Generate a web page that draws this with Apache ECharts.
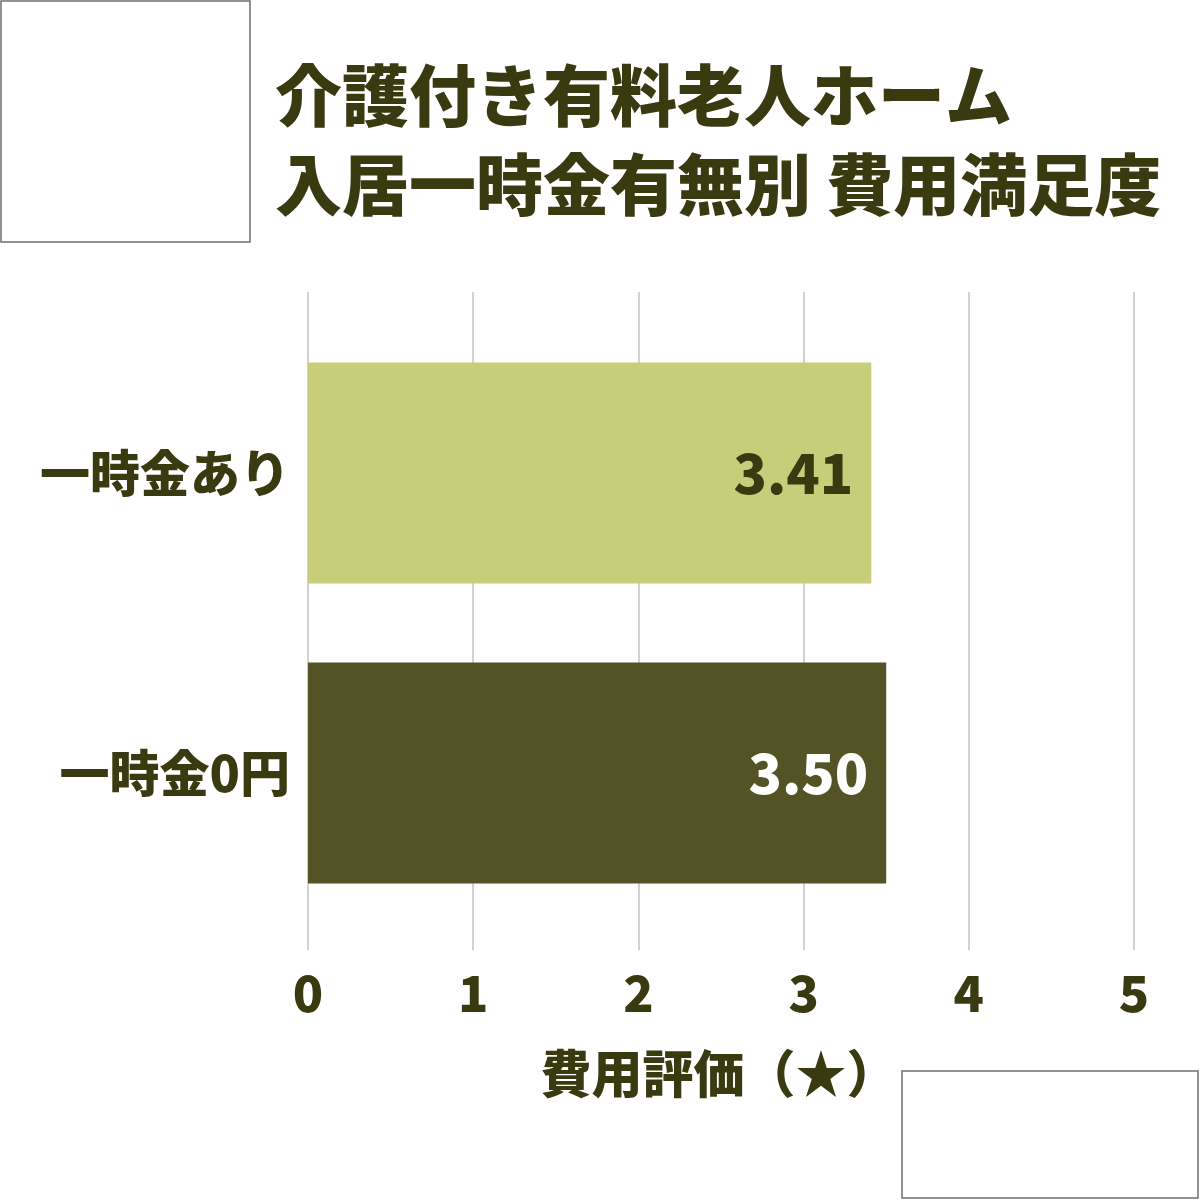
<!DOCTYPE html>
<html><head><meta charset="utf-8">
<script src="https://cdn.jsdelivr.net/npm/echarts@6/dist/echarts.min.js"></script>
<style>html,body{margin:0;padding:0;background:#fff}#c{width:1200px;height:1200px}</style>
</head><body><div id="c"></div>
<script>
const titleLines = ['介護付き有料老人ホーム', '入居一時金有無別 費用満足度'];
const categories = ['一時金あり', '一時金0円'];
const values = [3.41, 3.50];
const barColors = ['#c8cd7a', '#535326'];
const labelColors = ['#3a3a10', '#ffffff'];
const xTicks = [0, 1, 2, 3, 4, 5];
const xName = '費用評価（★）';

const FONT = '"Noto Sans CJK JP","Noto Sans",sans-serif';
const TXT = '#3a3a10';
const W = 900;

const chart = echarts.init(document.getElementById('c'), null, {renderer: 'canvas'});
chart.setOption({
  backgroundColor: '#ffffff',
  animation: false,
  title: {
    text: titleLines.join('\n'),
    left: 270, top: 46,
    textStyle: {fontFamily: FONT, fontWeight: W, fontSize: 67, lineHeight: 89, color: TXT}
  },
  grid: [
    {left: 308, right: 66, top: 323, bottom: 277},
    {left: 308, right: 66, top: 292, bottom: 250}
  ],
  xAxis: [
    {gridIndex: 0, type: 'value', min: xTicks[0], max: xTicks[xTicks.length - 1], interval: 1,
     axisLabel: {show: false}, splitLine: {show: false}, axisLine: {show: false}, axisTick: {show: false}},
    {gridIndex: 1, type: 'value', min: xTicks[0], max: xTicks[xTicks.length - 1], interval: 1,
     name: xName, nameLocation: 'middle', nameGap: 98,
     nameTextStyle: {fontFamily: FONT, fontWeight: W, fontSize: 51, color: TXT, padding: [0, 4, 0, 0]},
     axisLabel: {margin: 18, fontFamily: FONT, fontWeight: W, fontSize: 50, color: TXT},
     splitLine: {show: true, lineStyle: {color: '#d2d2d6', width: 2}},
     axisLine: {show: false}, axisTick: {show: false}}
  ],
  yAxis: [
    {gridIndex: 0, type: 'category', data: categories, inverse: true,
     axisLabel: {margin: 18, fontFamily: FONT, fontWeight: W, fontSize: 50, color: TXT},
     axisLine: {show: false}, axisTick: {show: false}, splitLine: {show: false}},
    {gridIndex: 1, type: 'value', show: false}
  ],
  series: [{
    type: 'bar', xAxisIndex: 0, yAxisIndex: 0, barWidth: 221,
    data: values.map((v, i) => ({
      value: v,
      itemStyle: {color: barColors[i]},
      label: {color: labelColors[i]}
    })),
    label: {show: true, position: 'insideRight', distance: 18,
      formatter: p => p.value.toFixed(2),
      fontFamily: FONT, fontWeight: W, fontSize: 55}
  }],
  graphic: [
    {type: 'rect', shape: {x: 1, y: 1, width: 249, height: 241}, style: {fill: '#fff', stroke: '#6e6e74', lineWidth: 1.5}},
    {type: 'rect', shape: {x: 902, y: 1071, width: 296, height: 127}, style: {fill: '#fff', stroke: '#6e6e74', lineWidth: 1.5}}
  ]
});
</script></body></html>
